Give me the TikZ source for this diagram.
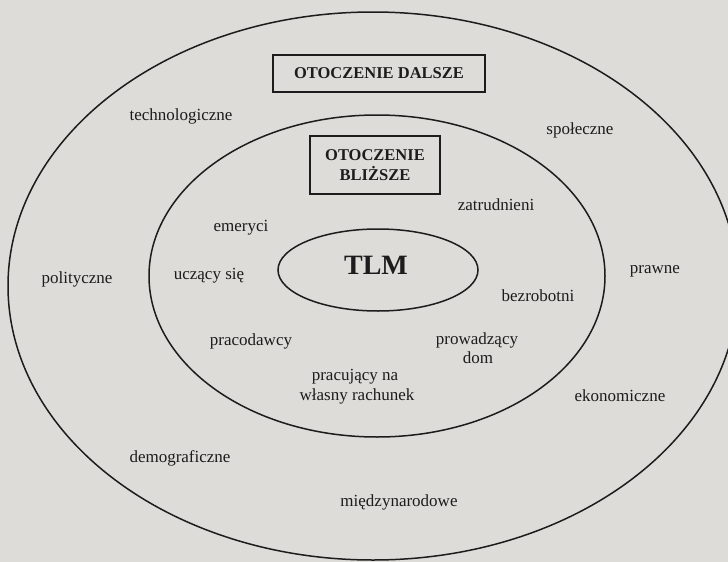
\documentclass[tikz,border=0pt]{standalone}
\usepackage{fontspec}
\setmainfont{Liberation Serif}
\definecolor{paper}{RGB}{221,220,216}
\definecolor{ink}{RGB}{28,28,28}
\tikzset{
  ring/.style={draw=ink, line width=1.5pt},
  lbl/.style={text=ink, anchor=base, inner sep=0pt, font=\fontsize{17}{20}\selectfont},
  title/.style={text=ink, font=\bfseries\fontsize{16.5}{19.5}\selectfont, align=center},
  tbox/.style={draw=ink, line width=1.5pt, inner sep=0pt}
}
\begin{document}
\begin{tikzpicture}[x=1pt,y=-1pt]
\fill[paper] (0,0) rectangle (728,562);
\useasboundingbox (0,0) rectangle (728,562);
\clip (0,0) rectangle (728,562);
% ellipses
\coordinate (co) at (373,286);
\coordinate (cm) at (377,276);
\coordinate (ci) at (378,270);
\draw[ring] (co) ellipse [x radius=365pt, y radius=274pt];
\draw[ring] (cm) ellipse [x radius=228pt, y radius=161pt];
\draw[ring] (ci) ellipse [x radius=100pt, y radius=41pt];
% boxes
\node[tbox, minimum width=212pt, minimum height=37pt] (dalszebox) at (379,73.5) {};
\node[title] (dalsze) at (dalszebox.center) {OTOCZENIE DALSZE};
\node[tbox, minimum width=130pt, minimum height=58pt] (blizszebox) at (375,165) {};
\node[title] (blizsze) at (blizszebox.center) {OTOCZENIE\\[1pt]BLIŻSZE};
% centre
\node[text=ink, font=\bfseries\fontsize{28}{30}\selectfont, inner sep=0pt, anchor=base] (tlm) at (376,274) {TLM};
% outer labels
\node[lbl] (technologiczne) at (181,120) {technologiczne};
\node[lbl] (spoleczne) at (580,134) {społeczne};
\node[lbl] (polityczne) at (77,283) {polityczne};
\node[lbl] (prawne) at (655,273) {prawne};
\node[lbl] (ekonomiczne) at (620,401) {ekonomiczne};
\node[lbl] (demograficzne) at (180,462) {demograficzne};
\node[lbl] (miedzynarodowe) at (399,506) {międzynarodowe};
% middle labels
\node[lbl] (zatrudnieni) at (496,210) {zatrudnieni};
\node[lbl] (emeryci) at (241,231) {emeryci};
\node[lbl] (uczacy) at (209,279) {uczący się};
\node[lbl] (bezrobotni) at (538,301) {bezrobotni};
\node[lbl] (pracodawcy) at (251,345) {pracodawcy};
\node[lbl] (prowadzacy) at (477,344) {prowadzący};
\node[lbl] (dom) at (478,363) {dom};
\node[lbl] (pracujacy) at (355,380) {pracujący na};
\node[lbl] (rachunek) at (357,400) {własny rachunek};
\end{tikzpicture}
\end{document}
